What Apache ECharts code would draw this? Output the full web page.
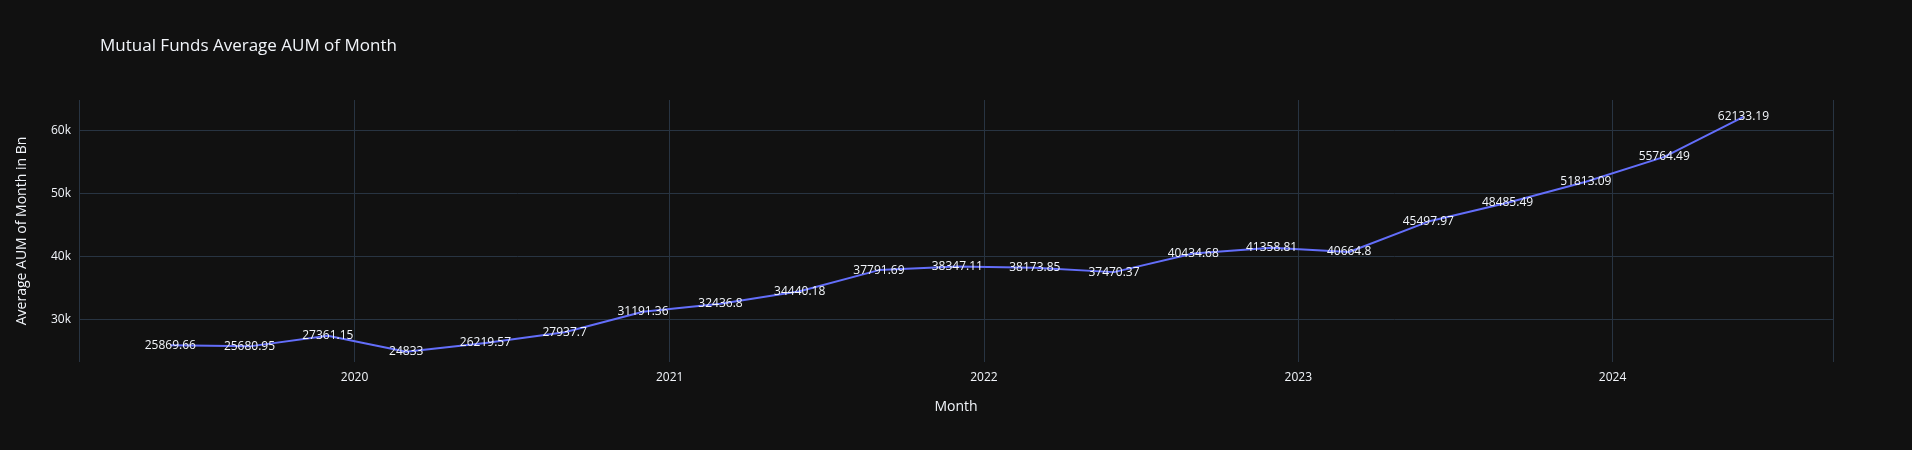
<!DOCTYPE html>
<html><head><meta charset="utf-8">
<script src="https://cdn.jsdelivr.net/npm/echarts@6/dist/echarts.min.js"></script>
<style>html,body{margin:0;background:#111111}#c{width:1912px;height:450px}</style>
</head><body><div id="c"></div>
<script>
const months = ['2019-06-01','2019-09-01','2019-12-01','2020-03-01','2020-06-01','2020-09-01','2020-12-01','2021-03-01','2021-06-01','2021-09-01','2021-12-01','2022-03-01','2022-06-01','2022-09-01','2022-12-01','2023-03-01','2023-06-01','2023-09-01','2023-12-01','2024-03-01','2024-06-01'];
const aum = [25869.66,25680.95,27361.15,24833,26219.57,27937.7,31191.36,32436.8,34440.18,37791.69,38347.11,38173.85,37470.37,40434.68,41358.81,40664.8,45497.97,48485.49,51813.09,55764.49,62133.19];
const font = '"Open Sans", "Noto Sans", sans-serif';
const chart = echarts.init(document.getElementById('c'));
chart.setOption({
  backgroundColor:'#111111',
  animation:false,
  title:{text:'Mutual Funds Average AUM of Month',left:95,top:33,textStyle:{color:'#f2f5fa',fontSize:17,fontWeight:'normal',fontFamily:font}},
  grid:{left:79,right:79,top:100,bottom:88},
  xAxis:{type:'time',min:'2019-02-15',max:'2024-09-13',minInterval:365*86400000,
    name:'Month',nameLocation:'middle',nameGap:38,nameTextStyle:{color:'#f2f5fa',fontSize:14,fontFamily:font},
    axisLine:{show:false},axisTick:{show:false},
    axisLabel:{color:'#f2f5fa',fontSize:12,fontFamily:font,formatter:'{yyyy}',margin:10},
    splitLine:{show:true,lineStyle:{color:'#283442',width:1}}},
  yAxis:{type:'value',min:23200,max:64800,splitNumber:4,
    name:'Average AUM of Month in Bn',nameLocation:'middle',nameGap:50,nameTextStyle:{color:'#f2f5fa',fontSize:14,fontFamily:font},
    axisLine:{show:false},axisTick:{show:false},
    axisLabel:{color:'#f2f5fa',fontSize:12,fontFamily:font,showMinLabel:false,showMaxLabel:false,
      formatter:v=>(v%10000===0)?(v/1000)+'k':''},
    splitLine:{show:true,lineStyle:{color:'#283442',width:1},showMinLine:false,showMaxLine:false}},
  series:[{type:'line',data:months.map((m,i)=>[m,aum[i]]),
    lineStyle:{color:'#636efa',width:2},itemStyle:{color:'#636efa'},symbol:'circle',symbolSize:0.5,showSymbol:true,
    label:{show:true,position:'inside',color:'#f2f5fa',fontSize:12,fontFamily:font,formatter:p=>String(p.value[1])}}]
});
</script></body></html>
